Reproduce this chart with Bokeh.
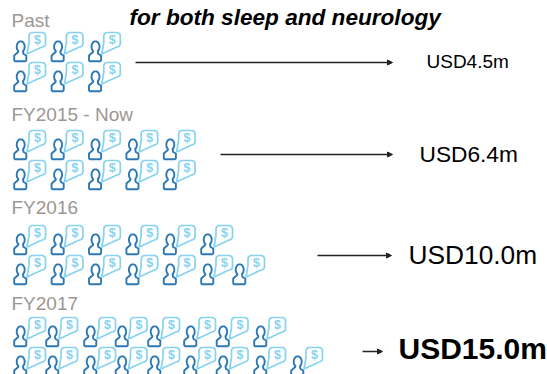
import numpy as np
from bokeh.core.properties import value
from bokeh.embed import file_html
from bokeh.models import Arrow, ColumnDataSource, Label, NormalHead, Range1d
from bokeh.plotting import figure
from bokeh.resources import INLINE

# Revenue stages and the customer icons shown for each one
periods = ["Past", "FY2015 - Now", "FY2016", "FY2017"]
top_row_icons = [3, 5, 6, 8]
bottom_row_icons = [3, 5, 7, 9]
revenue_labels = ["USD4.5m", "USD6.4m", "USD10.0m", "USD15.0m"]
headline = "for both sleep and neurology"

# Layout, in page pixels
W, H = 547, 374
period_y = [20, 114, 207, 303]
row_top_y = [32, 130, 225, 317]
row_step = 30
icon_columns = [
    [13, 50.4, 87.8],
    [13, 50.4, 87.8, 125.2, 162.6],
    [13, 50.4, 87.8, 125.2, 162.6, 200, 232],
    [13, 45, 83, 114.5, 147, 183, 215.5, 253, 290],
]
arrow_x = [(135, 392), (220, 392), (317, 391), (362, 382)]
arrow_y = [62, 154, 255, 351]
label_x = [426, 419, 408, 398]
label_y = [61, 153, 254, 348]
label_size = [19, 22.7, 26.3, 30]
label_weight = ["normal", "normal", "normal", "bold"]

DARK = "#2b78b5"
LIGHT = "#86d3f1"
GREY = "#9b9793"
FONT = "Liberation Sans"


def arc(cx, cy, rx, ry, a0, a1, n=10):
    t = np.radians(np.linspace(a0, a1, n))
    return list(cx + rx * np.cos(t)), list(cy + ry * np.sin(t))


def person_outline():
    """Head and shoulders, as one closed line relative to the icon's corner."""
    hx, hy = arc(7.2, 14.2, 4.0, 5.4, 125, 415, 16)
    xs = [4.7] + hx + [9.6, 10.0, 12.8, 12.8, 11.8, 1.6, 0.7, 0.7, 4.7]
    ys = [19.5] + hy + [19.5, 21.5, 23.0, 27.8, 28.8, 28.8, 27.8, 23.0, 19.5]
    return xs, ys


def bubble_outline():
    """Rounded speech bubble whose tail points down towards the person."""
    xs, ys = [], []
    for cx, cy, a0, a1 in [(19, 3.5, 180, 270), (28.5, 3.5, 270, 360), (28.5, 11, 0, 90)]:
        ax, ay = arc(cx, cy, 3.5, 3.5, a0, a1, 6)
        xs += ax
        ys += ay
    xs += [13.5, 15.5, 15.5]
    ys += [21.5, 10, 3.5]
    return xs, ys


px, py = person_outline()
bx, by = bubble_outline()

person_xs, person_ys, bubble_xs, bubble_ys, sign_x, sign_y = [], [], [], [], [], []
for i, columns in enumerate(icon_columns):
    rows = [(row_top_y[i], top_row_icons[i]), (row_top_y[i] + row_step, bottom_row_icons[i])]
    for y0, count in rows:
        for x0 in columns[:count]:
            person_xs.append([x0 + v for v in px])
            person_ys.append([y0 + v for v in py])
            bubble_xs.append([x0 + v for v in bx])
            bubble_ys.append([y0 + v for v in by])
            sign_x.append(x0 + 24)
            sign_y.append(y0 + 7.5)

p = figure(
    width=W, height=H, x_range=Range1d(0, W), y_range=Range1d(H, 0),
    x_axis_type=None, y_axis_type=None, output_backend="svg", toolbar_location=None,
    min_border=0, outline_line_color=None, background_fill_color="white",
    border_fill_color="white",
)
p.grid.visible = False

p.patches(bubble_xs, bubble_ys, fill_color="white", line_color=LIGHT, line_width=1.7)
p.patches(person_xs, person_ys, fill_color="white", line_color=DARK, line_width=1.9)
p.text(
    x="x", y="y", text="t",
    source=ColumnDataSource(dict(x=sign_x, y=sign_y, t=["$"] * len(sign_x))),
    text_color=LIGHT, text_font=value(FONT), text_font_size="12.5px", text_font_style="bold",
    text_align="center", text_baseline="middle",
)

for name, y in zip(periods, period_y):
    p.add_layout(Label(x=11, y=y, text=name, text_color=GREY, text_font=FONT,
                       text_font_size="19px", text_baseline="middle"))

p.add_layout(Label(x=129, y=17, text=headline, text_color="#000000", text_font=FONT,
                   text_font_size="22.6px", text_font_style="bold italic",
                   text_baseline="middle"))

for (x0, x1), y in zip(arrow_x, arrow_y):
    p.add_layout(Arrow(
        x_start=x0, y_start=y, x_end=x1, y_end=y, line_color="#222222", line_width=1.3,
        end=NormalHead(size=5, line_color="#222222", fill_color="#222222"),
    ))

for text, x, y, size, weight in zip(revenue_labels, label_x, label_y, label_size, label_weight):
    p.add_layout(Label(x=x, y=y, text=text, text_color="#000000", text_font=FONT,
                       text_font_size=f"{size}px", text_font_style=weight,
                       text_baseline="middle"))

open("out.html", "w").write(file_html(p, INLINE))
